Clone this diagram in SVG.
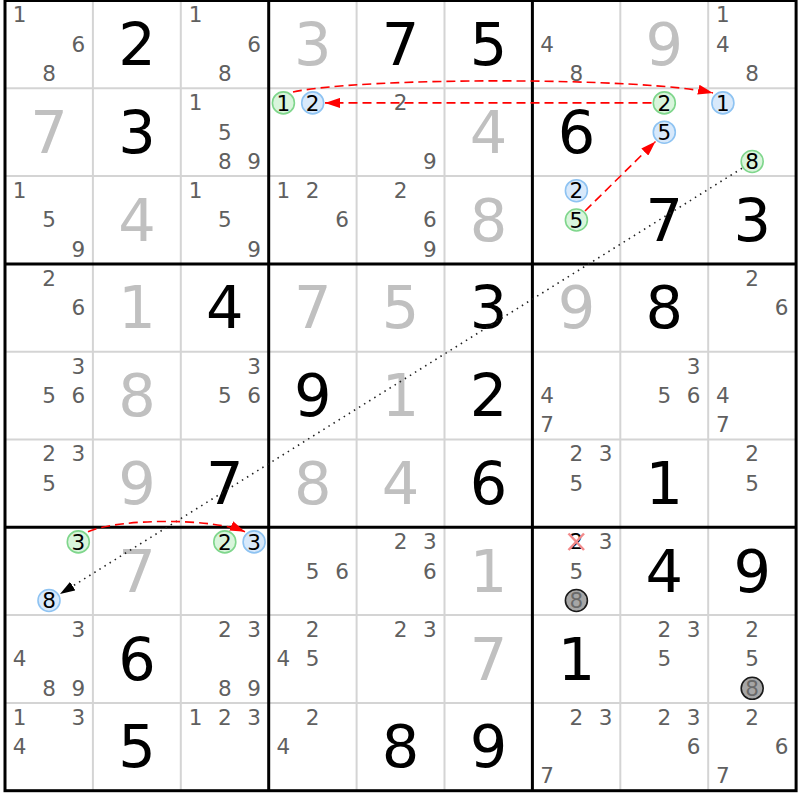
<svg xmlns="http://www.w3.org/2000/svg" width="800" height="800" viewBox="0 0 800 800">
<defs>
<style>
text{font-family:"DejaVu Sans","Liberation Sans",sans-serif;text-anchor:middle}
.g{font-size:59px;fill:#000}
.s{font-size:59px;fill:#c0c0c0}
.p{font-size:21.5px;fill:#606060}
.k{font-size:21.5px;fill:#000}
.q{font-size:21.5px;fill:#6a6a6a}
.cg{fill:#d9f5dc;stroke:#7fd68c;stroke-width:1.6}
.cb{fill:#d8e9fb;stroke:#8ec3f2;stroke-width:1.6}
.cx{fill:#a6a6a6;stroke:#1a1a1a;stroke-width:1.6}
.thin{stroke:#d4d4d4;stroke-width:2}
.thick{stroke:#000;stroke-width:3}
.rx{stroke:#f28a8a;stroke-width:2.5}
.red{fill:none;stroke:#ff0000;stroke-width:1.6;stroke-dasharray:9 5;marker-end:url(#ah-red)}
.dot{fill:none;stroke:#222;stroke-width:1.6;stroke-dasharray:1.5 4.5;marker-end:url(#ah-black)}
</style>
<marker id="ah-red" viewBox="0 0 15 10" refX="15" refY="5" markerWidth="15" markerHeight="10" markerUnits="userSpaceOnUse" orient="auto"><path d="M0,0 L15,5 L0,10 Z" fill="#ff0000"/></marker>
<marker id="ah-black" viewBox="0 0 15 10" refX="15" refY="5" markerWidth="15" markerHeight="10" markerUnits="userSpaceOnUse" orient="auto"><path d="M0,0 L15,5 L0,10 Z" fill="#000"/></marker>
</defs>
<rect x="0" y="0" width="800" height="800" fill="#fff"/>
<g id="grid">
<g class="thin">
<line x1="92.9" y1="0.5" x2="92.9" y2="790.7"/><line x1="180.8" y1="0.5" x2="180.8" y2="790.7"/>
<line x1="356.6" y1="0.5" x2="356.6" y2="790.7"/><line x1="444.5" y1="0.5" x2="444.5" y2="790.7"/>
<line x1="620.3" y1="0.5" x2="620.3" y2="790.7"/><line x1="708.2" y1="0.5" x2="708.2" y2="790.7"/>
<line x1="5" y1="88.3" x2="796.1" y2="88.3"/><line x1="5" y1="176.1" x2="796.1" y2="176.1"/>
<line x1="5" y1="351.7" x2="796.1" y2="351.7"/><line x1="5" y1="439.5" x2="796.1" y2="439.5"/>
<line x1="5" y1="615.1" x2="796.1" y2="615.1"/><line x1="5" y1="702.9" x2="796.1" y2="702.9"/>
</g>
<g class="thick">
<line x1="268.7" y1="0.5" x2="268.7" y2="790.7"/><line x1="532.4" y1="0.5" x2="532.4" y2="790.7"/>
<line x1="5" y1="263.9" x2="796.1" y2="263.9"/><line x1="5" y1="527.3" x2="796.1" y2="527.3"/>
<rect x="5" y="0.5" width="791.1" height="790.2" fill="none"/>
</g>
</g>
<g id="r1c1"><text class="p" x="19.7" y="22.4">1</text><text class="p" x="78.3" y="51.7">6</text><text class="p" x="49" y="81">8</text></g>
<g id="r1c2"><text class="g" x="136.9" y="65">2</text></g>
<g id="r1c3"><text class="p" x="195.5" y="22.4">1</text><text class="p" x="254.1" y="51.7">6</text><text class="p" x="224.8" y="81">8</text></g>
<g id="r1c4"><text class="s" x="312.7" y="65">3</text></g>
<g id="r1c5"><text class="g" x="400.6" y="65">7</text></g>
<g id="r1c6"><text class="g" x="488.5" y="65">5</text></g>
<g id="r1c7"><text class="p" x="547.1" y="51.7">4</text><text class="p" x="576.4" y="81">8</text></g>
<g id="r1c8"><text class="s" x="664.3" y="65">9</text></g>
<g id="r1c9"><text class="p" x="722.9" y="22.4">1</text><text class="p" x="722.9" y="51.7">4</text><text class="p" x="752.2" y="81">8</text></g>
<g id="r2c1"><text class="s" x="49" y="152.8">7</text></g>
<g id="r2c2"><text class="g" x="136.9" y="152.8">3</text></g>
<g id="r2c3"><text class="p" x="195.5" y="110.2">1</text><text class="p" x="224.8" y="139.5">5</text><text class="p" x="224.8" y="168.8">8</text><text class="p" x="254.1" y="168.8">9</text></g>
<g id="r2c4"><circle class="cg" cx="283.4" cy="102.9" r="11"/><text class="k" x="283.4" y="110.6">1</text><circle class="cb" cx="312.7" cy="102.9" r="11"/><text class="k" x="312.7" y="110.6">2</text></g>
<g id="r2c5"><text class="p" x="400.6" y="110.2">2</text><text class="p" x="429.9" y="168.8">9</text></g>
<g id="r2c6"><text class="s" x="488.5" y="152.8">4</text></g>
<g id="r2c7"><text class="g" x="576.4" y="152.8">6</text></g>
<g id="r2c8"><circle class="cg" cx="664.3" cy="102.9" r="11"/><text class="k" x="664.3" y="110.6">2</text><circle class="cb" cx="664.3" cy="132.2" r="11"/><text class="k" x="664.3" y="139.9">5</text></g>
<g id="r2c9"><circle class="cb" cx="722.9" cy="102.9" r="11"/><text class="k" x="722.9" y="110.6">1</text><circle class="cg" cx="752.2" cy="161.5" r="11"/><text class="k" x="752.2" y="169.2">8</text></g>
<g id="r3c1"><text class="p" x="19.7" y="198">1</text><text class="p" x="49" y="227.3">5</text><text class="p" x="78.3" y="256.6">9</text></g>
<g id="r3c2"><text class="s" x="136.9" y="240.6">4</text></g>
<g id="r3c3"><text class="p" x="195.5" y="198">1</text><text class="p" x="224.8" y="227.3">5</text><text class="p" x="254.1" y="256.6">9</text></g>
<g id="r3c4"><text class="p" x="283.4" y="198">1</text><text class="p" x="312.7" y="198">2</text><text class="p" x="342" y="227.3">6</text></g>
<g id="r3c5"><text class="p" x="400.6" y="198">2</text><text class="p" x="429.9" y="227.3">6</text><text class="p" x="429.9" y="256.6">9</text></g>
<g id="r3c6"><text class="s" x="488.5" y="240.6">8</text></g>
<g id="r3c7"><circle class="cb" cx="576.4" cy="190.7" r="11"/><text class="k" x="576.4" y="198.4">2</text><circle class="cg" cx="576.4" cy="220" r="11"/><text class="k" x="576.4" y="227.7">5</text></g>
<g id="r3c8"><text class="g" x="664.3" y="240.6">7</text></g>
<g id="r3c9"><text class="g" x="752.2" y="240.6">3</text></g>
<g id="r4c1"><text class="p" x="49" y="285.8">2</text><text class="p" x="78.3" y="315.1">6</text></g>
<g id="r4c2"><text class="s" x="136.9" y="328.4">1</text></g>
<g id="r4c3"><text class="g" x="224.8" y="328.4">4</text></g>
<g id="r4c4"><text class="s" x="312.7" y="328.4">7</text></g>
<g id="r4c5"><text class="s" x="400.6" y="328.4">5</text></g>
<g id="r4c6"><text class="g" x="488.5" y="328.4">3</text></g>
<g id="r4c7"><text class="s" x="576.4" y="328.4">9</text></g>
<g id="r4c8"><text class="g" x="664.3" y="328.4">8</text></g>
<g id="r4c9"><text class="p" x="752.2" y="285.8">2</text><text class="p" x="781.5" y="315.1">6</text></g>
<g id="r5c1"><text class="p" x="78.3" y="373.6">3</text><text class="p" x="49" y="402.9">5</text><text class="p" x="78.3" y="402.9">6</text></g>
<g id="r5c2"><text class="s" x="136.9" y="416.2">8</text></g>
<g id="r5c3"><text class="p" x="254.1" y="373.6">3</text><text class="p" x="224.8" y="402.9">5</text><text class="p" x="254.1" y="402.9">6</text></g>
<g id="r5c4"><text class="g" x="312.7" y="416.2">9</text></g>
<g id="r5c5"><text class="s" x="400.6" y="416.2">1</text></g>
<g id="r5c6"><text class="g" x="488.5" y="416.2">2</text></g>
<g id="r5c7"><text class="p" x="547.1" y="402.9">4</text><text class="p" x="547.1" y="432.2">7</text></g>
<g id="r5c8"><text class="p" x="693.6" y="373.6">3</text><text class="p" x="664.3" y="402.9">5</text><text class="p" x="693.6" y="402.9">6</text></g>
<g id="r5c9"><text class="p" x="722.9" y="402.9">4</text><text class="p" x="722.9" y="432.2">7</text></g>
<g id="r6c1"><text class="p" x="49" y="461.4">2</text><text class="p" x="78.3" y="461.4">3</text><text class="p" x="49" y="490.7">5</text></g>
<g id="r6c2"><text class="s" x="136.9" y="504">9</text></g>
<g id="r6c3"><text class="g" x="224.8" y="504">7</text></g>
<g id="r6c4"><text class="s" x="312.7" y="504">8</text></g>
<g id="r6c5"><text class="s" x="400.6" y="504">4</text></g>
<g id="r6c6"><text class="g" x="488.5" y="504">6</text></g>
<g id="r6c7"><text class="p" x="576.4" y="461.4">2</text><text class="p" x="605.7" y="461.4">3</text><text class="p" x="576.4" y="490.7">5</text></g>
<g id="r6c8"><text class="g" x="664.3" y="504">1</text></g>
<g id="r6c9"><text class="p" x="752.2" y="461.4">2</text><text class="p" x="752.2" y="490.7">5</text></g>
<g id="r7c1"><circle class="cg" cx="78.3" cy="541.9" r="11"/><text class="k" x="78.3" y="549.6">3</text><circle class="cb" cx="49" cy="600.5" r="11"/><text class="k" x="49" y="608.2">8</text></g>
<g id="r7c2"><text class="s" x="136.9" y="591.8">7</text></g>
<g id="r7c3"><circle class="cg" cx="224.8" cy="541.9" r="11"/><text class="k" x="224.8" y="549.6">2</text><circle class="cb" cx="254.1" cy="541.9" r="11"/><text class="k" x="254.1" y="549.6">3</text></g>
<g id="r7c4"><text class="p" x="312.7" y="578.5">5</text><text class="p" x="342" y="578.5">6</text></g>
<g id="r7c5"><text class="p" x="400.6" y="549.2">2</text><text class="p" x="429.9" y="549.2">3</text><text class="p" x="429.9" y="578.5">6</text></g>
<g id="r7c6"><text class="s" x="488.5" y="591.8">1</text></g>
<g id="r7c7"><text class="k" x="576.4" y="549.2">2</text><line class="rx" x1="568.5" y1="533.5" x2="584" y2="550"/><line class="rx" x1="584" y1="533.5" x2="568.5" y2="550"/><text class="p" x="605.7" y="549.2">3</text><text class="p" x="576.4" y="578.5">5</text><circle class="cx" cx="576.4" cy="600.5" r="11"/><text class="q" x="576.4" y="608.2">8</text></g>
<g id="r7c8"><text class="g" x="664.3" y="591.8">4</text></g>
<g id="r7c9"><text class="g" x="752.2" y="591.8">9</text></g>
<g id="r8c1"><text class="p" x="78.3" y="637">3</text><text class="p" x="19.7" y="666.3">4</text><text class="p" x="49" y="695.6">8</text><text class="p" x="78.3" y="695.6">9</text></g>
<g id="r8c2"><text class="g" x="136.9" y="679.6">6</text></g>
<g id="r8c3"><text class="p" x="224.8" y="637">2</text><text class="p" x="254.1" y="637">3</text><text class="p" x="224.8" y="695.6">8</text><text class="p" x="254.1" y="695.6">9</text></g>
<g id="r8c4"><text class="p" x="312.7" y="637">2</text><text class="p" x="283.4" y="666.3">4</text><text class="p" x="312.7" y="666.3">5</text></g>
<g id="r8c5"><text class="p" x="400.6" y="637">2</text><text class="p" x="429.9" y="637">3</text></g>
<g id="r8c6"><text class="s" x="488.5" y="679.6">7</text></g>
<g id="r8c7"><text class="g" x="576.4" y="679.6">1</text></g>
<g id="r8c8"><text class="p" x="664.3" y="637">2</text><text class="p" x="693.6" y="637">3</text><text class="p" x="664.3" y="666.3">5</text></g>
<g id="r8c9"><text class="p" x="752.2" y="637">2</text><text class="p" x="752.2" y="666.3">5</text><circle class="cx" cx="752.2" cy="688.3" r="11"/><text class="q" x="752.2" y="696">8</text></g>
<g id="r9c1"><text class="p" x="19.7" y="724.8">1</text><text class="p" x="78.3" y="724.8">3</text><text class="p" x="19.7" y="754.1">4</text></g>
<g id="r9c2"><text class="g" x="136.9" y="767.4">5</text></g>
<g id="r9c3"><text class="p" x="195.5" y="724.8">1</text><text class="p" x="224.8" y="724.8">2</text><text class="p" x="254.1" y="724.8">3</text></g>
<g id="r9c4"><text class="p" x="312.7" y="724.8">2</text><text class="p" x="283.4" y="754.1">4</text></g>
<g id="r9c5"><text class="g" x="400.6" y="767.4">8</text></g>
<g id="r9c6"><text class="g" x="488.5" y="767.4">9</text></g>
<g id="r9c7"><text class="p" x="576.4" y="724.8">2</text><text class="p" x="605.7" y="724.8">3</text><text class="p" x="547.1" y="783.4">7</text></g>
<g id="r9c8"><text class="p" x="664.3" y="724.8">2</text><text class="p" x="693.6" y="724.8">3</text><text class="p" x="693.6" y="754.1">6</text></g>
<g id="r9c9"><text class="p" x="752.2" y="724.8">2</text><text class="p" x="781.5" y="754.1">6</text><text class="p" x="722.9" y="783.4">7</text></g>
<g id="connectors">
<path class="red" d="M293,92 C363,77 643,77 713,93"/>
<path class="red" d="M651.5,102.9 L325,102.9"/>
<path class="red" d="M585,211 L655.5,141.5"/>
<path class="dot" d="M742,168.3 L60,594"/>
<path class="red" d="M88,531.7 C120,518 213,518 245,531.7"/>
</g>
</svg>
